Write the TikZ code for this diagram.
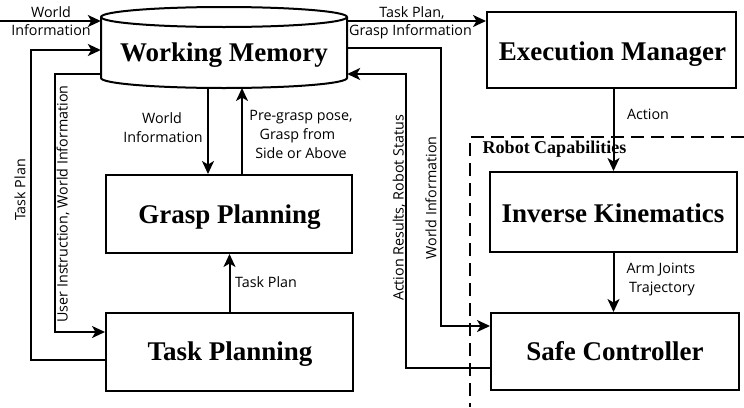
\documentclass[tikz,border=0pt]{standalone}
\usepackage{fontspec}
\setmainfont{Liberation Serif}
\newfontfamily\lblfont{Open Sans}
\usetikzlibrary{arrows.meta,calc}
\begin{document}
\begin{tikzpicture}[x=1pt,y=-1pt,
  box/.style={draw,line width=2pt,inner sep=0pt},
  title/.style={font=\fontsize{27}{27}\selectfont\bfseries,anchor=base,inner sep=0pt},
  lbl/.style={font=\lblfont\fontsize{14.3}{14.3}\selectfont,anchor=base,inner sep=0pt},
  rlbl/.style={font=\lblfont\fontsize{14.3}{14.3}\selectfont,rotate=90,inner sep=0pt},
  arr/.style={line width=2pt,-{Stealth[length=13pt,width=12pt,inset=3.5pt]}},
  dashedline/.style={line width=1.8pt,dash pattern=on 13pt off 7pt}]
\useasboundingbox (0,0) rectangle (744,407);

% dashed region
\draw[dashedline] (744,137) -- (470,137) -- (470,407);

% working memory cylinder
\draw[line width=2pt,fill=white] (101,17) -- (101,78)
  arc[start angle=180,end angle=360,x radius=123pt,y radius=10pt] -- (347,17)
  arc[start angle=0,end angle=180,x radius=123pt,y radius=10pt] -- cycle;
\draw[line width=2pt] (101,17) arc[start angle=180,end angle=360,x radius=123pt,y radius=10pt];
\node[minimum width=246pt,minimum height=61pt,inner sep=0pt] (wm) at (224,47.5) {};
\node[title] (wmt) at (224,61) {Working Memory};

% boxes
\node[box,minimum width=249pt,minimum height=76pt] (em) at (611.5,50) {};
\node[box,minimum width=247pt,minimum height=80pt] (ik) at (613.5,212) {};
\node[box,minimum width=248pt,minimum height=77pt] (sc) at (615,351.5) {};
\node[box,minimum width=246pt,minimum height=78pt] (gp) at (229,214) {};
\node[box,minimum width=247pt,minimum height=78pt] (tp) at (229.5,352) {};

\node[title] (emt) at (612.5,60) {Execution Manager};
\node[title] (gpt) at (229.5,223) {Grasp Planning};
\node[title] (tpt) at (230,360) {Task Planning};
\node[title] (ikt) at (613,222) {Inverse Kinematics};
\node[title] (sct) at (615,360) {Safe Controller};
\node[font=\fontsize{18}{18}\selectfont\bfseries,anchor=base,inner sep=0pt] (rc) at (554.5,153) {Robot Capabilities};

% connectors
\coordinate (win) at (0,21);
\draw[arr] (win) -- (win -| wm.west);

\coordinate (tpl) at ($(tp.west)+(0,8)$);
\coordinate (tploop) at (31,50);
\draw[arr] (tpl) -| (tploop) -- (tploop -| wm.west);

\coordinate (uix) at (55,74);
\draw[arr] (uix -| wm.west) -- (uix) |- ($(tp.west)+(0,-20)$);

\coordinate (wmb1) at (208,88);
\draw[arr] (wmb1) -- (wmb1 |- gp.north);
\coordinate (wmb2) at (242,88);
\draw[arr] (wmb2 |- gp.north) -- (wmb2);
\draw[arr] (tp.north) -- (tp.north |- gp.south);

\coordinate (wmr1) at (347,21);
\draw[arr] (wmr1) -- (wmr1 -| em.west);

\coordinate (wmr2) at (441,48);
\draw[arr] (wmr2 -| wm.east) -- (wmr2) |- ($(sc.west)+(0,-25.5)$);

\coordinate (arx) at (406,74);
\draw[arr] ($(sc.west)+(0,16.5)$) -| (arx) -- (arx -| wm.east);

\draw[arr] (em.south -| ik.north) -- (ik.north);
\draw[arr] (ik.south) -- (ik.south |- sc.north);

% labels
\node[lbl] (l1a) at (51,17) {World};
\node[lbl] (l1b) at (51,35) {Information};
\node[lbl] (l2a) at (412,17) {Task Plan,};
\node[lbl] (l2b) at (410.5,35) {Grasp Information};
\node[lbl] (l3a) at (162,123) {World};
\node[lbl] (l3b) at (163,142) {Information};
\node[lbl] (l4a) at (301,120) {Pre-grasp pose,};
\node[lbl] (l4b) at (297.5,139) {Grasp from};
\node[lbl] (l4c) at (301,158) {Side or Above};
\node[lbl] (l5) at (648,119) {Action};
\node[lbl] (l6a) at (661,273) {Arm Joints};
\node[lbl] (l6b) at (662,292) {Trajectory};
\node[lbl] (l7) at (266,287) {Task Plan};
\node[rlbl] (r1) at (20,190) {Task Plan};
\node[rlbl] (r2) at (63,204) {User Instruction, World Information};
\node[rlbl] (r3) at (399,208) {Action Results, Robot Status};
\node[rlbl] (r4) at (431,198) {World Information};
\end{tikzpicture}
\end{document}
